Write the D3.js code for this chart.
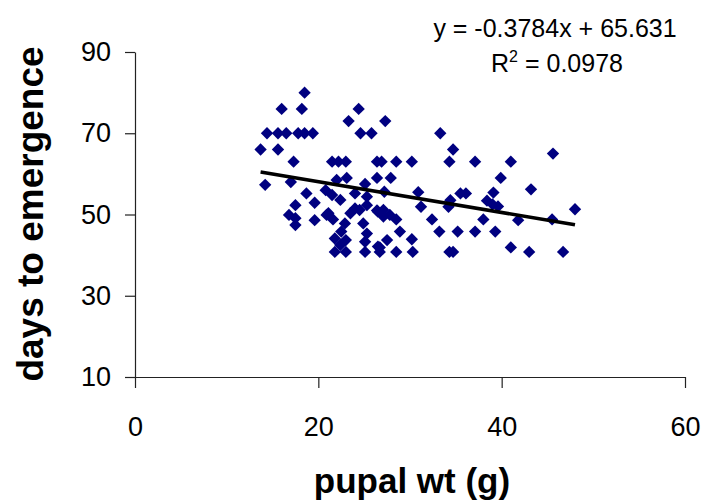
<!DOCTYPE html>
<html>
<head>
<meta charset="utf-8">
<script src="https://cdn.jsdelivr.net/npm/d3@7"></script>
<style>
  body { margin: 0; background: #fff; }
  svg { display: block; }
</style>
</head>
<body>
<div id="chart"></div>
<script>
// pupal weight (g) vs days to emergence
var wt = [
  18.5,
  16.0, 18.2, 24.4,
  23.3, 27.3,
  14.4, 15.6, 16.5, 17.8, 18.5, 19.4, 24.6, 25.8, 33.3,
  13.7, 15.6, 34.7,
  45.6,
  17.3, 21.5, 22.2, 23.0, 26.4, 26.9, 28.5, 30.2, 34.3, 37.1, 41.0,
  23.1, 26.4, 27.9, 39.9,
  17.0, 14.2, 22.0, 25.1,
  43.2, 20.8,
  18.7, 21.5, 24.0, 27.2, 30.9, 35.5, 36.1, 39.1, 25.3,
  19.6, 22.4, 34.4, 38.4,
  17.5, 24.0, 25.3, 31.2, 34.2, 39.0, 39.6, 48.0,
  24.5, 26.4, 27.1, 26.5,
  16.8, 20.9, 23.5, 27.8, 21.1,
  17.5, 19.6, 21.6, 27.1, 28.5, 32.4, 38.0, 41.8, 45.5,
  17.5, 22.9, 24.9,
  22.5, 25.3, 28.9, 33.2, 35.2, 37.1, 39.3,
  21.8, 23.0, 25.1, 27.5, 30.2, 22.4,
  26.5, 26.7, 41.0,
  21.8, 23.0, 25.1, 26.7, 28.5, 30.3, 34.3, 34.7, 43.0, 46.7
];
var days = [
  80,
  76, 76, 76,
  73, 73,
  70, 70, 70, 70, 70, 70, 70, 70, 70,
  66, 66, 66,
  65,
  63, 63, 63, 63, 63, 63, 63, 63, 63, 63, 63,
  59, 59, 59, 59,
  58, 57.3, 58.5, 57.5,
  56.2, 56,
  55.2, 54.8, 55.2, 55.6, 55.5, 55.2, 55.2, 55.4, 54.4,
  52.9, 53.6, 53.5, 53.4,
  52.3, 51.5, 52.3, 51.9, 51.9, 52.5, 52, 51.3,
  51.1, 51, 51.1, 50.7,
  49.9, 49.9, 50.3, 49.9, 50.3,
  49.1, 48.6, 48.8, 49.5, 48.8, 48.8, 48.8, 48.6, 48.8,
  47.4, 47.8, 47.8,
  45.8, 45.3, 45.8, 45.8, 45.8, 45.8, 45.8,
  44.1, 43.7, 43.3, 43.7, 43.9, 42.5,
  42.1, 41.9, 41.9,
  40.8, 40.8, 40.8, 40.8, 40.8, 40.8, 40.8, 40.8, 40.8, 40.8
];
var xTicks = [0, 20, 40, 60];
var yTicks = [10, 30, 50, 70, 90];
var slope = -0.3784;
var intercept = 65.631;
var r2 = 0.0978;

var width = 706, height = 504;
var svg = d3.select('#chart').append('svg')
  .attr('width', width)
  .attr('height', height);

var x = d3.scaleLinear().domain([0, 60]).range([135, 685]);
var y = d3.scaleLinear().domain([10, 90]).range([377, 52]);

// axes
var xAxis = svg.append('g')
  .attr('transform', 'translate(0,' + y(10) + ')')
  .call(d3.axisBottom(x).tickValues(xTicks).tickSize(11).tickSizeOuter(0).tickPadding(29));
var yAxis = svg.append('g')
  .attr('transform', 'translate(' + x(0) + ',0)')
  .call(d3.axisLeft(y).tickValues(yTicks).tickSize(10).tickSizeOuter(0).tickPadding(14));

[xAxis, yAxis].forEach(function(g){
  g.selectAll('path, line').attr('stroke', '#222').attr('stroke-width', 1.2);
  g.selectAll('text')
    .attr('fill', '#000')
    .style('font-family', 'Liberation Sans, Arial, sans-serif')
    .style('font-size', '27px');
});

// points
var pts = d3.range(wt.length).map(function(i){ return [wt[i], days[i]]; });
var diamond = d3.symbol().type(d3.symbolSquare).size(76);
svg.append('g').selectAll('path')
  .data(pts)
  .enter()
  .append('path')
    .attr('d', diamond)
    .attr('transform', function(d){ return 'translate(' + x(d[0]) + ',' + y(d[1]) + ') rotate(45)'; })
    .attr('fill', '#000080');

// trend line over the data range
var ext = d3.extent(wt);
svg.append('line')
  .attr('x1', x(ext[0])).attr('y1', y(slope * ext[0] + intercept))
  .attr('x2', x(ext[1])).attr('y2', y(slope * ext[1] + intercept))
  .attr('stroke', '#000')
  .attr('stroke-width', 3.5);

// equation
var eq = svg.append('g')
  .style('font-family', 'Liberation Sans, Arial, sans-serif')
  .style('font-size', '25px')
  .attr('text-anchor', 'middle');
eq.append('text')
  .attr('x', 555).attr('y', 37)
  .text('y = ' + slope + 'x + ' + intercept);
var rt = eq.append('text').attr('x', 557).attr('y', 72);
rt.append('tspan').text('R');
rt.append('tspan').attr('dy', -10).style('font-size', '16px').text('2');
rt.append('tspan').attr('dy', 10).text(' = ' + r2);

// axis titles
svg.append('text')
  .attr('x', 412).attr('y', 493)
  .attr('text-anchor', 'middle')
  .style('font-family', 'Liberation Sans, Arial, sans-serif')
  .style('font-weight', 'bold')
  .style('font-size', '35px')
  .text('pupal wt (g)');
svg.append('text')
  .attr('transform', 'translate(43,214) rotate(-90)')
  .attr('text-anchor', 'middle')
  .style('font-family', 'Liberation Sans, Arial, sans-serif')
  .style('font-weight', 'bold')
  .style('font-size', '37px')
  .text('days to emergence');
</script>
</body>
</html>
